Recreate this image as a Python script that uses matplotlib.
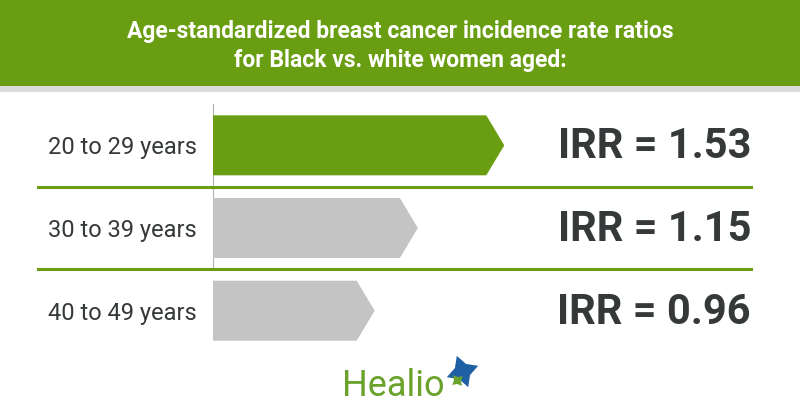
import numpy as np
import matplotlib
matplotlib.use('Agg')
import matplotlib.pyplot as plt
from matplotlib.patches import Polygon, Rectangle
from matplotlib.transforms import blended_transform_factory

AGE_GROUPS = ['20 to 29 years', '30 to 39 years', '40 to 49 years']
IRR = [1.53, 1.15, 0.96]
IRR_LABELS = ['IRR = 1.53', 'IRR = 1.15', 'IRR = 0.96']
TITLE = 'Age-standardized breast cancer incidence rate ratios\nfor Black vs. white women aged:'

GREEN = '#6a9e12'
GRAY_BAR = '#c4c4c4'
DARK = '#35393a'

plt.rcParams['font.family'] = ['Roboto', 'DejaVu Sans']

W, H = 800, 420
fig = plt.figure(figsize=(8, 4.2), dpi=100)

# background layer in pixel coordinates
bg = fig.add_axes([0, 0, 1, 1])
bg.set_xlim(0, W)
bg.set_ylim(H, 0)
bg.axis('off')

bg.add_patch(Rectangle((0, 0), W, 86, color=GREEN, lw=0))
bg.add_patch(Rectangle((0, 86), W, 6, color='#dcdcdc', lw=0))
bg.text(400, 46, TITLE, color='white', ha='center', va='center',
        fontsize=16.5, fontweight='bold', linespacing=1.3)

# axis line
bg.plot([213, 213], [104, 270], color='#b0b0b0', lw=0.8)

# logo
bg.text(342, 386, 'Healio', color='#6aa22b', fontsize=26, ha='left', va='center')
bg.plot([462], [371], marker=(4, 1, 20), markersize=24, color='#1f5fa3', mec='none')
bg.plot([457], [380], marker=(4, 1, 40), markersize=10, color='#6aa22b', mec='none')

# bar axes
top, bottom = 104, 352
left, right = 213, 540
ax = fig.add_axes([left / W, 1 - bottom / H, (right - left) / W, (bottom - top) / H])
ax.patch.set_alpha(0)
x0 = 0.249
px_per_unit = 227.4
ax.set_xlim(x0, x0 + (right - left) / px_per_unit)
ax.set_ylim(len(IRR) - 0.5, -0.5)
for s in ax.spines.values():
    s.set_visible(False)
ax.set_xticks([])
ax.set_yticks(range(len(AGE_GROUPS)))
ax.set_yticklabels(AGE_GROUPS, fontsize=17, color=DARK)
ax.tick_params(axis='y', length=0, pad=11.5)

h = 60 / 82.7 / 2
tip = 18 / px_per_unit
for i, v in enumerate(IRR):
    c = GREEN if i == 0 else GRAY_BAR
    ax.add_patch(Polygon([(x0, i - h), (v - tip, i - h), (v, i), (v - tip, i + h), (x0, i + h)],
                         closed=True, color=c, lw=0, clip_on=False))

tr = blended_transform_factory(bg.transData, ax.transData)
for i, lab in enumerate(IRR_LABELS):
    ax.text(751, i + 0.02, lab, transform=tr, ha='right', va='center',
            fontsize=30, fontweight='bold', color=DARK)
for i in range(len(IRR) - 1):
    ax.plot([38, 751], [i + 0.5, i + 0.5], transform=tr, color=GREEN, lw=2.2,
            clip_on=False)

fig.savefig('out.png', dpi=100)
